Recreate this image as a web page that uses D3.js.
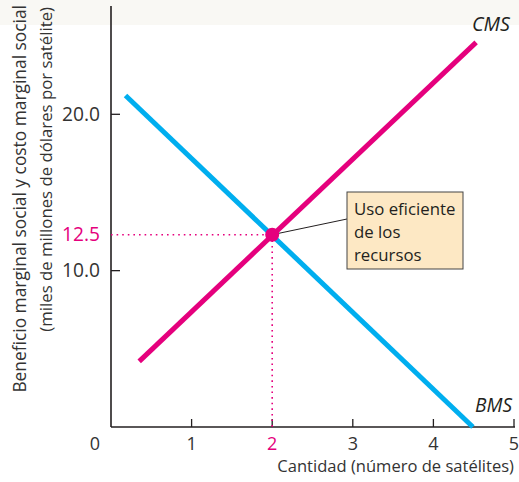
<!DOCTYPE html>
<html><head><meta charset="utf-8">
<script src="https://cdn.jsdelivr.net/npm/d3@7"></script>
<style>
body{margin:0;background:#fff;}
svg{display:block;font-family:"Open Sans",Lato,sans-serif;}
</style></head>
<body><svg id="c" width="519" height="482"></svg>
<script>
const xTicks = [1, 2, 3, 4, 5];
const yTicks = [10, 20];
const yTickLabels = ["10.0", "20.0"];
const bmsX = [0.18, 4.49];
const bmsY = [21.2, 0];
const cmsX = [0.35, 4.53];
const cmsY = [4.2, 24.6];
const eqX = 2;
const eqY = 12.3;
const eqLabel = "12.5";
const noteLines = ["Uso eficiente", "de los", "recursos"];

const svg = d3.select("#c");
svg.append("rect").attr("x",0).attr("y",0).attr("width",519).attr("height",25).attr("fill","#f9f8f4");

const x = d3.scaleLinear().domain([0,5]).range([111,514]);
const y = d3.scaleLinear().domain([0,20]).range([427,114.3]);
const blue = "#00aeef", pink = "#e5007d", txt = "#333";

function fit(sel, target, base){
  sel.attr("font-size", base);
  const w = sel.node().getComputedTextLength();
  sel.attr("font-size", base*target/w);
  return sel;
}

// axes
const g = svg.append("g");
g.append("line").attr("x1",x(0)).attr("x2",x(0)).attr("y1",6).attr("y2",y(0)).attr("stroke","#231f20").attr("stroke-width",1.6);
g.append("line").attr("x1",x(0)).attr("x2",x(5)+1).attr("y1",y(0)).attr("y2",y(0)).attr("stroke","#231f20").attr("stroke-width",1.6);
xTicks.forEach(t=>{
  g.append("line").attr("x1",x(t)).attr("x2",x(t)).attr("y1",y(0)).attr("y2",y(0)-8).attr("stroke","#231f20").attr("stroke-width",1.3);
  g.append("text").attr("x",x(t)).attr("y",450).attr("text-anchor","middle").attr("font-size",18)
   .attr("fill", t===eqX ? pink : txt).text(t);
});
g.append("text").attr("x",95).attr("y",450).attr("text-anchor","middle").attr("font-size",18).attr("fill",txt).text("0");
yTicks.forEach((t,i)=>{
  g.append("line").attr("x1",x(0)).attr("x2",x(0)+9).attr("y1",y(t)).attr("y2",y(t)).attr("stroke","#231f20").attr("stroke-width",1.3);
  fit(g.append("text").attr("x",100).attr("y",y(t)+6.5).attr("text-anchor","end").attr("fill",txt).text(yTickLabels[i]), 38, 18);
});
const eqPy = y(eqY);
fit(g.append("text").attr("x",100).attr("y",eqPy+6.5).attr("text-anchor","end").attr("fill",pink).text(eqLabel), 38, 18);

// axis titles
fit(svg.append("text").attr("transform","translate(26,5) rotate(-90)").attr("text-anchor","end").attr("fill",txt)
  .text("Beneficio marginal social y costo marginal social"), 388, 16);
fit(svg.append("text").attr("transform","translate(52,7) rotate(-90)").attr("text-anchor","end").attr("fill",txt)
  .text("(miles de millones de dólares por satélite)"), 325, 16);
fit(svg.append("text").attr("x",514).attr("y",472).attr("text-anchor","end").attr("fill",txt)
  .text("Cantidad (número de satélites)"), 237, 16);

// dotted guides
svg.append("line").attr("x1",x(0)).attr("x2",x(eqX)).attr("y1",y(eqY)).attr("y2",y(eqY)).attr("stroke",pink).attr("stroke-width",1.6).attr("stroke-dasharray","1.6,4");
svg.append("line").attr("x1",x(eqX)).attr("x2",x(eqX)).attr("y1",y(eqY)).attr("y2",y(0)).attr("stroke",pink).attr("stroke-width",1.6).attr("stroke-dasharray","1.6,4");

// curves
const line = d3.line().x(d=>x(d[0])).y(d=>y(d[1]));
svg.append("path").attr("d",line(d3.zip(bmsX,bmsY))).attr("stroke",blue).attr("stroke-width",5).attr("fill","none");
svg.append("path").attr("d",line(d3.zip(cmsX,cmsY))).attr("stroke",pink).attr("stroke-width",5).attr("fill","none");

// labels
fit(svg.append("text").attr("x",510).attr("y",31).attr("text-anchor","end").attr("font-style","italic").attr("fill","#231f20").text("CMS"), 38, 18);
fit(svg.append("text").attr("x",512).attr("y",412).attr("text-anchor","end").attr("font-style","italic").attr("fill","#231f20").text("BMS"), 37, 18);

// annotation
svg.append("line").attr("x1",x(eqX)).attr("y1",y(eqY)).attr("x2",347).attr("y2",219).attr("stroke","#231f20").attr("stroke-width",1);
svg.append("rect").attr("x",347).attr("y",192).attr("width",116).attr("height",77).attr("fill","#fde8c4").attr("stroke","#444").attr("stroke-width",1);
const nt = svg.append("text").attr("font-size",16.8).attr("fill","#231f20");
noteLines.forEach((s,i)=>nt.append("tspan").attr("x",354).attr("y",215+i*23).text(s));
svg.append("circle").attr("cx",x(eqX)).attr("cy",y(eqY)).attr("r",7).attr("fill",pink);
</script></body></html>
